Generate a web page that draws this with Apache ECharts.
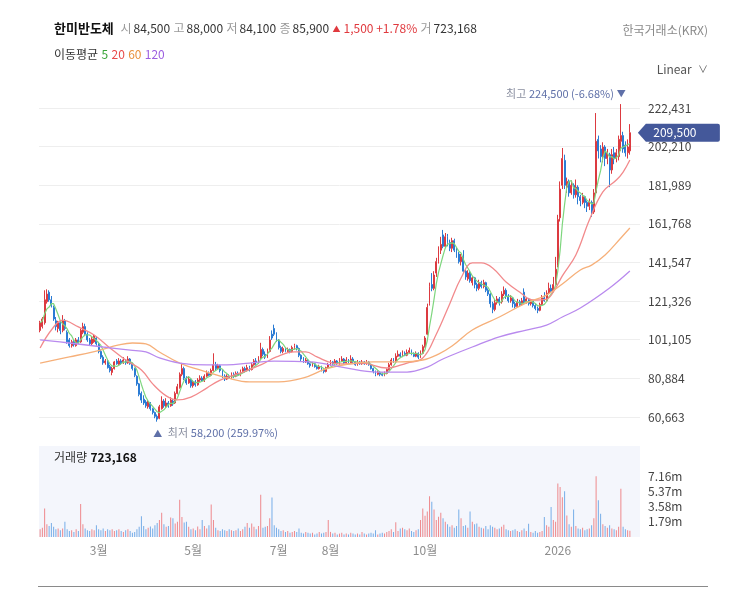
<!DOCTYPE html>
<html>
<head>
<meta charset="utf-8">
<title>한미반도체</title>
<script src="https://cdn.jsdelivr.net/npm/echarts@6/dist/echarts.min.js"></script>
<style>
html, body { margin: 0; padding: 0; background: #fff; }
#container { width: 731px; height: 594px; }
</style>
</head>
<body>
<div id="container"></div>
<script>
var FONT = "'Noto Sans CJK KR', 'Noto Sans', sans-serif";

// trading days shown on the chart
var tradingDays = {
    '2025-01': [20,21,22,23,24,31],
    '2025-02': [3,4,5,6,7,10,11,12,13,14,17,18,19,20,21,24,25,26,27,28],
    '2025-03': [4,5,6,7,10,11,12,13,14,17,18,19,20,21,24,25,26,27,28,31],
    '2025-04': [1,2,3,4,7,8,9,10,11,14,15,16,17,18,21,22,23,24,25,28,29,30],
    '2025-05': [2,7,8,9,12,13,14,15,16,19,20,21,22,23,26,27,28,29,30],
    '2025-06': [2,4,5,9,10,11,12,13,16,17,18,19,20,23,24,25,26,27,30],
    '2025-07': [1,2,3,4,7,8,9,10,11,14,15,16,17,18,21,22,23,24,25,28,29,30,31],
    '2025-08': [1,4,5,6,7,8,11,12,13,14,18,19,20,21,22,25,26,27,28,29],
    '2025-09': [1,2,3,4,5,8,9,10,11,12,15,16,17,18,19,22,23,24,25,26,29,30],
    '2025-10': [1,2,10,13,14,15,16,17,20,21,22,23,24,27,28,29,30,31],
    '2025-11': [3,4,5,6,7,10,11,12,13,14,17,18,19,20,21,24,25,26,27,28],
    '2025-12': [1,2,3,4,5,8,9,10,11,12,15,16,17,18,19,22,23,24,26,29,30],
    '2026-01': [2,5,6,7,8,9,12,13,14,15,16,19,20,21,22,23,26,27,28,29,30],
    '2026-02': [2,3,4,5,6,9,10,11,12,13,19,20]
};
var labelMonths = ['2025-03', '2025-05', '2025-07', '2025-08', '2025-10', '2026-01'];

// [open, close, low, high] in thousand won
var ohlcK = [
    // Jan - Feb
    [106,110,105,111],[108,112,107,113],[110,122,109,127],[121,125,120,127.5],[126,122,121,127],
    [122,119,118,124],[118,112,111,119],[111,108,106,113],[107,110,105,111],[110,106,104,111],
    [106,111,105,114],[111,107,106,112],[105,100,99,106],[101,98,97,102],[98,100,97,101],
    [100,98.5,97.5,101],[98,101,97.5,102],[101,99.5,99,102.5],[100,106,99.5,107],[105,108,104,110],
    [108,104,103,109.5],[104,101,100,105],[101,99,98,102],[99,101.5,98,102.5],[100,103,99.5,104],
    [102,99,98,103],
    // Mar
    [99,95,94,100],[95,92,91,96],[92,89,88,93],[89,90,88,91],[90,86.5,86,91],
    [87,85,84,88],[84,86,82.5,87],[86,89.5,85.5,90],[90,88.5,88,91],[88,90,87.5,91.5],
    [90,89,88,91],[89,90.5,88.5,92],[90.5,89,88,91],[89,91,88.5,92.5],[91,88.5,88,91.5],
    [88.5,86,85,89],[86,82.5,81.5,86.5],[82,78,77,82.5],[78,72.5,71.5,78.5],[73,69.5,68,74],
    // Apr
    [70,68,67,72],[68.5,66.5,65.5,69.5],[66,68.5,65,69.5],[68,65,64,68.5],[65,63,62,65.5],
    [63,61,60,63.5],[61,59.5,58.2,62],[60,66,59.5,67],[65,69,64.5,71.5],[69,66.5,65.5,70],
    [66,68,65.5,70.5],[68,66.5,65.5,69],[66.5,69.5,66,71],[69,67.5,66.5,70],[68,73,67.5,74],
    [73,76.5,72.5,78],[76,83,75.5,84],[83,86,82,89],[86,81,80,87],[81,78.5,77.5,82],
    [78.5,80.5,78,82],[80.5,77,76,81],
    // May
    [77,79,76,80],[79,77.5,76.5,80],[77.5,80,77,81],[80,81,79,82.5],[81,79.5,79,82],
    [79.5,82,79,83],[82,83.5,81.5,85],[83.5,82.5,82,84.5],[82.5,85,82,86],[85,88,84.5,94],
    [88,86,85,89.5],[86,87.5,85.5,88.5],[87.5,85,84,88],[85,82,81,85.5],[82,80.5,79.5,83],
    [80.5,82,80,83],[82,81,80.5,83],[81,83,80.5,84],[83,82,81,84],
    // Jun
    [82,83.5,81.5,84.5],[83.5,82.5,82,84.5],[82.5,84.5,82,85.5],[84.5,86,84,87],[86,85,84,87],
    [85,86.5,84.5,88],[86.5,85.5,84.5,87.5],[85.5,88,85,89],[88,90,87.5,91],[90,89,88,91.5],
    [89,91.5,88.5,92.5],[91.5,96,91,99.5],[96,93.5,92.5,97],[93.5,92,91,95],[92,95,91.5,96.5],
    [95,101,94.5,103],[104,102,101,106],[107,104,103,109],[104,101,100,105],
    // Jul
    [101,97,96,101.5],[97,95,94,98],[95,96.5,94,97.5],[96.5,95,94.5,97],[95,96,94.5,97],
    [96,95,94,96.5],[95,97,94.5,98],[97,98,96,99],[98,96.5,95.5,98.5],[96.5,93,92,97],
    [93,91,90,93.5],[91,89.5,89,92],[89.5,90.5,89,91.5],[90.5,88.5,88,91],[88.5,87.5,86.5,89],
    [87.5,88.5,87,89.5],[88.5,87,86.5,89],[87,86,85.5,87.5],[86,87,85.5,88],[87,85.5,84.5,87.5],
    [85.5,84.5,83.5,86],[84.5,86.5,84,87],[86.5,88,86,89],
    // Aug
    [88,89.5,87.5,90.5],[89.5,88.5,88,90],[88.5,90,88,91],[90,88.5,88,90.5],[88.5,90,88,91.5],
    [90,91,89.5,92.5],[91,89,88.5,91.5],[89,90.5,88.5,92],[90.5,89,88.5,91],[89,91,88.5,93],
    [91,89.5,89,92],[89.5,88,87.5,90],[88,89.5,87.5,90.5],[89.5,88.5,88,90],[88.5,89.5,88,90.5],
    [89.5,88.5,88,90],[88.5,89.5,88,90.5],[89.5,88,87.5,90],[88,86,85.5,88.5],[86,84.5,83.5,86.5],
    // Sep
    [84.5,83,82,85],[83,84,82.5,85],[84,83,82,84.5],[83,82.5,82,84],[82.5,83.5,82,84.5],
    [83.5,85.5,83,86],[85.5,88,85,89],[88,90.5,87.5,91.5],[90.5,89.5,89,91.5],[89.5,92.5,89,94],
    [92.5,93.5,92,95.5],[93.5,92.5,92,94.5],[92.5,94,92,95.5],[94,93,92.5,95],[93,94.5,92.5,96],
    [94.5,95.5,94,97],[95.5,93.5,93,96],[93.5,92.5,92,94.5],[92.5,94,92,95],[94,92,91,94.5],
    [92,94,91.5,95.5],[94,97.5,93.5,98.5],
    // Oct
    [97.5,102,97,103],[104,118,103.5,120],[120,129,119,131],[130,128,126.5,136],[128,135,127,137],
    [136,142,134,144],[142,148,141,150],[148,151,146,155],[156,150,149,158.6],[150,155,149,157],
    [155,152,150,156.5],[152,149,147.5,153.5],[149,153,147,154.5],[153,148,147,154],[148,145,144,149.5],
    [146,142,141,147],[142,144.5,140,146],[144.5,137,136,148],
    // Nov
    [137,134,132.5,138],[133,136,132,137.5],[136,132,131,137],[131,133.5,129.5,134.5],[133.5,130,128,134],
    [130,128,126.5,131],[128,131,127,132.5],[131,129,128,132],[129,131,128,132.5],[131,127,126,131.5],
    [127,125,124,128],[125,120,118,125.5],[120,117,115,121],[117,120.5,116,122],[120.5,122.5,119.5,124],
    [122.5,121,119,123.5],[121,125,120,126.5],[125,127,124,129],[127,124,122.5,128],[124,121.5,120.5,125],
    // Dec
    [121.5,123,120.5,124.5],[123,120,118,123.5],[120,118.5,117.5,121],[118.5,121,118,122.5],[121,119.5,118.5,122],
    [119.5,121.5,119,123],[126,121,120,128],[121,122.5,120,123.5],[122.5,120,119,123],[120,121.5,119,122.5],
    [121.5,119,118,122],[119,117.5,116.5,120],[117.5,116.5,115,118.5],[116.5,119.5,116,120.5],[119.5,123,119,124.5],
    [123,121.5,121,126],[121.5,125.5,121,127],[125.5,128,125,131],[128,126.5,125.5,130],[126.5,130,126,134],
    [130,138,129.5,144.5],
    // Jan 2026
    [140,164,139,166.5],[165,180,163,184],[182,196,180,201.5],[195,182,180,198],[181,184,178,186],
    [184,178,176,185],[178,182,177,184.5],[182,177,175,183],[177,181,175.5,185],[181,176,172,182],
    [176,174,171,177],[173,176,172,178],[176,173,170,176.5],[173,171,168,174],[171,173,169,175],
    [173,168,165.4,174],[168,178,167,180],[178,205,177,219.8],[206,200,196,208],[201,197,194,203],
    [197,202,194,204.5],
    // Feb 2026
    [202,196,192,203],[196,199,193,201],[198,190,181,199],[190,198,188,201],[199,196,193,202],
    [196,199,194,201],[197,206,195,208],[205,208,200,224.5],[208,201,199,210],[203,199,197,205],
    [199,202,196,206],[200,209.5,198,214]
];

// volume in thousand shares
var volK = [
    900,1100,3350,1500,1300,1650,1200,900,1000,800,1000,1800,900,700,800,600,900,700,3900,1500,1000,800,700,900,800,1400,
    900,800,1000,700,900,800,900,700,800,900,700,600,800,900,700,500,600,900,1200,
    2450,1300,900,1100,1250,1000,1400,1650,2000,2850,1500,1200,1300,2300,2200,1600,1800,4400,2350,1700,1800,1200,900,
    1000,800,1250,900,2000,1300,1000,1400,3850,2000,1100,800,700,900,800,700,900,800,700,
    800,1000,700,900,1200,1650,1100,1600,1200,900,1300,5000,1100,1200,1300,2200,4650,1400,1100,
    900,700,800,600,700,500,600,700,600,1000,500,400,600,500,400,500,300,400,600,400,500,600,2000,
    600,400,500,300,400,500,300,400,300,500,400,300,400,300,600,400,300,400,500,400,
    800,300,400,500,400,600,700,900,600,1750,700,1000,1100,900,800,1000,700,600,800,900,2000,3350,
    2500,3000,4800,4150,3250,2000,2400,2850,2200,1800,1500,1200,1400,1100,1300,3250,2200,1300,
    1400,1100,3000,1800,1500,1600,1200,1100,1000,1300,900,1400,1200,1100,900,1000,1200,1450,900,800,
    700,800,900,700,600,800,1000,700,1550,600,500,700,500,600,700,2350,1400,1200,3550,2000,1800,
    6300,5900,4700,5400,2550,1500,1200,3250,1300,1000,900,1100,800,900,1000,1400,2200,7160,4350,2750,1500,
    1300,1100,1400,1000,900,800,1200,5700,1200,900,800,723
];

// moving averages: [day index, thousand won]
var ma20K = [[0,96.8],[5,106.2],[10,111.4],[17,107.8],[24,103.6],[31,96.8],[38,90.5],[45,85.3],[50,78],
    [56,71.7],[61,69.6],[67,71.1],[74,75.8],[80,80],[89,83.7],[98,87.9],[105,92.1],[113,94.7],[118,94.7],
    [123,92.1],[130,88.9],[136,88.4],[143,88.9],[154,86.3],[163,88.9],[170,91.5],[176,104],[182,120],
    [187,133.4],[192,141.3],[196,141.3],[201,138.7],[207,131.3],[213,126.1],[219,121.9],[225,122.4],
    [228,126.1],[232,134.5],[238,145.5],[244,163.8],[250,178.5],[256,184.7],[259,188.9],[262,195.2]];
var ma60K = [[0,88.9],[13,92.1],[25,95.2],[35,98.4],[41,99.4],[47,98.9],[53,94.7],[62,88.9],[74,84.2],
    [83,81.1],[93,79],[106,79],[117,81.1],[127,85.8],[137,88.4],[148,89.5],[160,89.5],[170,90.5],
    [177,93.6],[183,97.8],[192,106.2],[204,113],[216,120.4],[225,124.5],[232,130.3],[240,137.6],
    [245,140.2],[251,145.5],[258,154.4],[262,159.6]];
var ma120K = [[0,101],[13,99.4],[28,97.3],[40,95.7],[47,94.7],[53,91.6],[62,88.9],[74,87.9],[83,87.9],
    [93,88.9],[104,89.9],[120,89.5],[134,86.8],[150,84.2],[163,84.2],[172,86.8],[178,90.5],[182,92.6],
    [192,97.3],[204,102.6],[216,106.2],[225,108.8],[232,113],[240,117.7],[253,128.2],[262,137.1]];

var priceTicks = { min: 40442, max: 242652, step: 20221 };
var volTicks = { max: 10740000, step: 1790000, shownMax: 7160000 };
var lastClose = 209500;
var highMark = { idx: 258, value: 224500, text: '224,500 (-6.68%)' };
var lowMark = { idx: 52, value: 58200, text: '58,200 (259.97%)' };

var RED = '#dc3a40', BLUE = '#2a7bd4';

function fmt(n) { return String(n).replace(/\B(?=(\d{3})+(?!\d))/g, ','); }

var dates = [];
Object.keys(tradingDays).forEach(function (ym) {
    tradingDays[ym].forEach(function (d) { dates.push(ym + '-' + (d < 10 ? '0' : '') + d); });
});
var labelIdx = labelMonths.map(function (ym) {
    for (var i = 0; i < dates.length; i++) { if (dates[i].indexOf(ym) === 0) return i; }
    return -1;
});

var candles = ohlcK.map(function (r) {
    return r.map(function (v) { return Math.round(v * 1000); });
});
var closes = candles.map(function (c) { return c[1]; });
var ma5 = closes.map(function (c, i) {
    var from = Math.max(0, i - 4), s = 0;
    for (var k = from; k <= i; k++) s += closes[k];
    return Math.round(s / (i - from + 1));
});
function toWon(pts) { return pts.map(function (p) { return [p[0], Math.round(p[1] * 1000)]; }); }

var volumes = volK.map(function (v, i) {
    var up = candles[i][1] >= candles[i][0];
    return { value: v * 1000, itemStyle: { color: up ? '#ee8a8e' : '#78aee8' } };
});

var dom = document.getElementById('container');
var myChart = echarts.init(dom);
var option = {
    animation: false,
    textStyle: { fontFamily: FONT },
    grid: [
        { left: 39, right: 91, top: 69.4, height: 386.2 },
        { left: 39, right: 91, top: 446, height: 91, show: true, backgroundColor: '#f4f6fc', borderWidth: 0 }
    ],
    xAxis: [
        {
            type: 'category', gridIndex: 0, data: dates, max: dates.length + 3,
            axisLine: { show: false }, axisTick: { show: false }, axisLabel: { show: false },
            splitLine: { show: false }
        },
        {
            type: 'category', gridIndex: 1, data: dates, max: dates.length + 3,
            axisLine: { show: false }, axisTick: { show: false }, splitLine: { show: false },
            axisLabel: {
                color: '#8c8c8c', fontSize: 12, margin: 7, fontFamily: FONT,
                interval: function (i) { return labelIdx.indexOf(i) >= 0; },
                formatter: function (v) {
                    if (!v) return '';
                    var p = v.split('-');
                    return p[1] === '01' ? p[0] : Number(p[1]) + '월';
                }
            }
        }
    ],
    yAxis: [
        {
            type: 'value', gridIndex: 0, position: 'right',
            min: priceTicks.min, max: priceTicks.max, interval: priceTicks.step,
            axisLine: { show: false }, axisTick: { show: false },
            axisLabel: {
                color: '#444', fontSize: 12, margin: 8, fontFamily: FONT,
                formatter: function (v) { return (v <= priceTicks.min || v >= priceTicks.max) ? '' : fmt(v); }
            },
            splitLine: { show: true, showMinLine: false, showMaxLine: false, lineStyle: { color: '#eeeeee', width: 1 } }
        },
        {
            type: 'value', gridIndex: 1, position: 'right',
            min: 0, max: volTicks.max, interval: volTicks.step,
            axisLine: { show: false }, axisTick: { show: false }, splitLine: { show: false },
            axisLabel: {
                color: '#444', fontSize: 12, margin: 8, fontFamily: FONT,
                formatter: function (v) {
                    return (v === 0 || v > volTicks.shownMax) ? '' : (v / 1e6).toFixed(2) + 'm';
                }
            }
        }
    ],
    series: [
        {
            name: '한미반도체', type: 'candlestick', xAxisIndex: 0, yAxisIndex: 0,
            data: candles, barWidth: '62%',
            itemStyle: { color: RED, color0: BLUE, borderColor: RED, borderColor0: BLUE, borderWidth: 1 },
            markPoint: {
                silent: true,
                data: [
                    {
                        coord: [highMark.idx, highMark.value], symbol: 'circle', symbolSize: 1,
                        itemStyle: { color: 'rgba(0,0,0,0)' },
                        label: {
                            show: true, position: 'top', align: 'right', distance: 4, offset: [5, 0],
                            formatter: '{g|최고} {v|' + highMark.text + '}{a|▼}',
                            rich: {
                                g: { color: '#8a8fa0', fontSize: 11, fontFamily: FONT },
                                v: { color: '#5f70a8', fontSize: 11, fontFamily: FONT },
                                a: { color: '#5f70a8', fontSize: 9, padding: [0, 0, 0, 3] }
                            }
                        }
                    },
                    {
                        coord: [lowMark.idx, lowMark.value], symbol: 'circle', symbolSize: 1,
                        itemStyle: { color: 'rgba(0,0,0,0)' },
                        label: {
                            show: true, position: 'bottom', align: 'left', distance: 5, offset: [-4, 0],
                            formatter: '{a|▲} {g|최저} {v|' + lowMark.text + '}',
                            rich: {
                                g: { color: '#8a8fa0', fontSize: 11, fontFamily: FONT },
                                v: { color: '#5f70a8', fontSize: 11, fontFamily: FONT },
                                a: { color: '#5f70a8', fontSize: 9, padding: [0, 3, 0, 0] }
                            }
                        }
                    },
                    {
                        coord: [candles.length - 1, lastClose],
                        symbol: 'path://M0,9 L8,0 L80,0 Q82,0 82,2 L82,16 Q82,18 80,18 L8,18 Z',
                        symbolSize: [82, 18], symbolOffset: [49, 0], symbolKeepAspect: false,
                        itemStyle: { color: '#44589a' },
                        label: {
                            show: true, position: 'inside', offset: [-4, 0],
                            formatter: fmt(lastClose), color: '#fff', fontSize: 12, fontFamily: FONT
                        }
                    }
                ]
            }
        },
        {
            name: 'MA5', type: 'line', xAxisIndex: 0, yAxisIndex: 0, data: ma5,
            symbol: 'none', lineStyle: { color: '#7ed67e', width: 1.2 }, silent: true
        },
        {
            name: 'MA20', type: 'line', xAxisIndex: 0, yAxisIndex: 0, data: toWon(ma20K),
            symbol: 'none', smooth: 0.4, lineStyle: { color: '#f28a8c', width: 1.3 }, silent: true
        },
        {
            name: 'MA60', type: 'line', xAxisIndex: 0, yAxisIndex: 0, data: toWon(ma60K),
            symbol: 'none', smooth: 0.4, lineStyle: { color: '#f6b07a', width: 1.3 }, silent: true
        },
        {
            name: 'MA120', type: 'line', xAxisIndex: 0, yAxisIndex: 0, data: toWon(ma120K),
            symbol: 'none', smooth: 0.4, lineStyle: { color: '#b98aee', width: 1.3 }, silent: true
        },
        {
            name: '거래량', type: 'bar', xAxisIndex: 1, yAxisIndex: 1, data: volumes,
            barWidth: '45%', silent: true
        }
    ],
    graphic: [
        {
            type: 'text', left: 54, top: 22,
            style: {
                text: '{n|한미반도체}  {g|시}{v|84,500} {g|고}{v|88,000} {g|저}{v|84,100} {g|종}{v|85,900} {t|▲}{r|1,500 +1.78%} {g|거}{v|723,168}',
                rich: {
                    n: { fontSize: 13, fontWeight: 'bold', fill: '#111', fontFamily: FONT },
                    g: { fontSize: 12, fill: '#999', fontFamily: FONT, padding: [0, 2, 0, 0] },
                    v: { fontSize: 12, fill: '#333', fontFamily: FONT },
                    t: { fontSize: 8, fill: '#e0393e', fontFamily: FONT, padding: [0, 3, 0, 0] },
                    r: { fontSize: 12, fill: '#e0393e', fontFamily: FONT }
                }
            }
        },
        {
            type: 'text', right: 23, top: 24,
            style: { text: '한국거래소(KRX)', fontSize: 12, fill: '#8a8a8a', fontFamily: FONT }
        },
        {
            type: 'text', left: 54, top: 48,
            style: {
                text: '{t|이동평균} {a|5} {b|20} {c|60} {d|120}',
                rich: {
                    t: { fontSize: 12, fill: '#333', fontFamily: FONT },
                    a: { fontSize: 12, fill: '#3aa53a', fontFamily: FONT },
                    b: { fontSize: 12, fill: '#e84a4a', fontFamily: FONT },
                    c: { fontSize: 12, fill: '#e8903a', fontFamily: FONT },
                    d: { fontSize: 12, fill: '#9c5fe0', fontFamily: FONT }
                }
            }
        },
        {
            type: 'text', right: 23, top: 63,
            style: {
                text: '{t|Linear} {c|∨}',
                rich: {
                    t: { fontSize: 12, fill: '#555', fontFamily: FONT },
                    c: { fontSize: 10, fill: '#666', fontFamily: FONT, padding: [0, 0, 0, 3] }
                }
            }
        },
        {
            type: 'text', left: 54, top: 451,
            style: {
                text: '{t|거래량} {v|723,168}',
                rich: {
                    t: { fontSize: 12, fill: '#333', fontFamily: FONT },
                    v: { fontSize: 12, fill: '#111', fontWeight: 'bold', fontFamily: FONT }
                }
            }
        },
        {
            type: 'line', silent: true,
            shape: { x1: 38, y1: 586.5, x2: 708, y2: 586.5 },
            style: { stroke: '#8a8a8a', lineWidth: 1 }
        }
    ]
};

if (option && typeof option === 'object') {
    myChart.setOption(option, true);
}
</script>
</body>
</html>
